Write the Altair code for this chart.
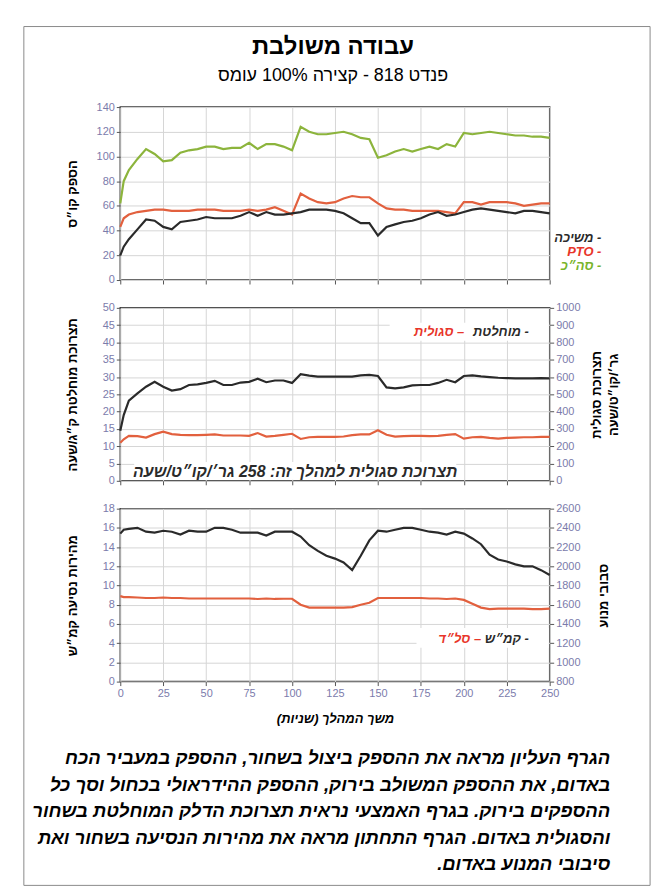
import altair as alt
import pandas as pd

FONT = "Liberation Sans"
BLACK = "#2a2a2a"
RED = "#e2603e"
GREEN = "#8cb43c"
LBL = "#7b7bab"

# ---------------- data ----------------
seconds = [0, 2, 5, 10, 15, 20, 25, 30, 35, 40, 45, 50, 55, 60, 65, 70, 75, 80, 85, 90,
           95, 100, 105, 110, 115, 120, 125, 130, 135, 140, 145, 150, 155, 160, 165, 170,
           175, 180, 185, 190, 195, 200, 205, 210, 215, 220, 225, 230, 235, 240, 245, 250]

draw_power = [20, 27, 33, 41, 49, 48, 43, 41, 47, 48, 49, 51, 50, 50, 50, 52, 55, 52, 55, 53,
              53, 54, 55, 57, 57, 57, 56, 54, 50, 46, 46, 36, 43, 45, 47, 48, 50, 53, 55, 52,
              53, 55, 57, 58, 57, 56, 55, 54, 56, 56, 55, 54]
pto_power = [43, 50, 53, 55, 56, 57, 57, 56, 56, 56, 57, 57, 57, 56, 56, 56, 57, 56, 57, 59,
             56, 53, 70, 66, 63, 62, 63, 66, 68, 67, 67, 62, 58, 57, 57, 56, 56, 56, 56, 55,
             54, 63, 63, 61, 63, 63, 63, 62, 60, 61, 62, 62]
total_power = [62, 80, 89, 98, 106, 102, 96, 97, 103, 105, 106, 108, 108, 106, 107, 107, 111, 106,
               110, 110, 108, 105, 124, 120, 118, 118, 119, 120, 118, 115, 114, 99, 101, 104,
               106, 104, 106, 108, 106, 110, 108, 119, 118, 119, 120, 119, 118, 117, 117, 116,
               116, 115]

fuel_abs = [14.5, 19, 23.2, 25.3, 27.2, 28.6, 27.2, 26.1, 26.5, 27.7, 27.9, 28.3, 28.9, 27.7,
            27.7, 28.4, 28.6, 29.5, 28.5, 29, 29, 28.3, 30.8, 30.4, 30.1, 30.1, 30.1, 30.1,
            30.1, 30.5, 30.6, 30.3, 27, 26.7, 27, 27.6, 27.7, 27.7, 28.3, 29.2, 28.5, 30.3,
            30.5, 30.2, 30, 29.8, 29.7, 29.6, 29.6, 29.6, 29.7, 29.6]
fuel_spec = [220, 240, 260, 258, 250, 270, 284, 270, 266, 264, 264, 266, 268, 262, 262, 262,
             260, 276, 256, 260, 266, 272, 242, 252, 254, 254, 254, 256, 264, 268, 268, 292,
             266, 256, 258, 260, 260, 258, 260, 266, 270, 244, 252, 254, 248, 244, 248, 250,
             252, 252, 254, 254]

speed_kmh = [15.4, 15.8, 15.9, 16.0, 15.6, 15.5, 15.7, 15.6, 15.3, 15.7, 15.6, 15.6, 16.0,
             16.0, 15.8, 15.5, 15.5, 15.5, 15.2, 15.6, 15.6, 15.6, 15.1, 14.2, 13.6, 13.1,
             12.8, 12.4, 11.6, 13.1, 14.7, 15.7, 15.6, 15.8, 16.0, 16.0, 15.8, 15.6, 15.5,
             15.3, 15.6, 15.4, 14.9, 14.3, 13.2, 12.7, 12.5, 12.2, 12.0, 12.0, 11.6, 11.1]
engine_rpm = [1690, 1680, 1680, 1675, 1670, 1670, 1675, 1670, 1670, 1665, 1665, 1665, 1665,
              1665, 1665, 1665, 1665, 1660, 1665, 1660, 1662, 1662, 1600, 1570, 1570, 1570,
              1570, 1570, 1575, 1600, 1620, 1670, 1670, 1670, 1670, 1670, 1670, 1665, 1665,
              1660, 1665, 1650, 1610, 1570, 1555, 1560, 1560, 1560, 1560, 1555, 1555, 1560]

x_ticks = [0, 25, 50, 75, 100, 125, 150, 175, 200, 225, 250]
top_ticks = [0, 20, 40, 60, 80, 100, 120, 140]
mid_ticks = [0, 5, 10, 15, 20, 25, 30, 35, 40, 45, 50]
mid_r_ticks = [0, 100, 200, 300, 400, 500, 600, 700, 800, 900, 1000]
bot_ticks = [0, 2, 4, 6, 8, 10, 12, 14, 16, 18]
bot_r_ticks = [800, 1000, 1200, 1400, 1600, 1800, 2000, 2200, 2400, 2600]

title_main = "עבודה משולבת"
title_sub = "פנדט 818 - קצירה 100% עומס"
top_legend = ["משיכה -", "PTO -", "סה״כ -"]
mid_legend = ["מוחלטת -", "סגולית –"]
bot_legend = ["קמ״ש -", "סל״ד –"]
mid_note = "תצרוכת סגולית למהלך זה: 258 גר׳/קו״ט/שעה"
x_title = "משך המהלך (שניות)\u200f"
caption_lines = [
    "הגרף העליון מראה את ההספק ביצול בשחור, ההספק במעביר הכח",
    "באדום, את ההספק המשולב בירוק, ההספק ההידראולי בכחול וסך כל",
    "ההספקים בירוק. בגרף האמצעי נראית תצרוכת הדלק המוחלטת בשחור",
    "והסגולית באדום. הגרף התחתון מראה את מהירות הנסיעה בשחור ואת",
    "סיבובי המנוע באדום.\u200f",
]

W, H = 432, 174
n = len(seconds)
one = pd.DataFrame({"k": [0]})

xscale = alt.Scale(domain=[0, 250], nice=False)


def x_enc(show_labels, title=None):
    if show_labels:
        ax = alt.Axis(values=x_ticks, labelFlush=False, title=title, titleFontStyle="italic",
                      titlePadding=14, titleFontSize=13)
    else:
        ax = alt.Axis(values=x_ticks, labels=False, title=None)
    return alt.X("t:Q", scale=xscale, axis=ax)


def txt(s, x, y, color="black", size=13, align="right", weight="bold", style="italic"):
    return alt.Chart(one).mark_text(
        text=s, font=FONT, fontSize=size, fontWeight=weight, fontStyle=style,
        align=align, baseline="middle", color=color,
    ).encode(x=alt.value(x), y=alt.value(y))


def box(x1, x2, y1, y2):
    return alt.Chart(one).mark_rect(fill="white").encode(
        x=alt.value(x1), x2=alt.value(x2), y=alt.value(y1), y2=alt.value(y2))


# ---------------- top panel ----------------
top_df = pd.DataFrame({
    "t": seconds * 3,
    "v": total_power + pto_power + draw_power,
    "s": ["total"] * n + ["pto"] * n + ["draw"] * n,
})

top_lines = alt.Chart(top_df).mark_line(strokeWidth=2.2).encode(
    x=x_enc(False),
    y=alt.Y("v:Q", scale=alt.Scale(domain=[0, 140], nice=False),
            axis=alt.Axis(values=top_ticks, title="הספק קו״ס", titleX=-48, titleY=H / 2,
                          titleAngle=270, titleBaseline="middle", titleAlign="center")),
    color=alt.Color("s:N", scale=alt.Scale(domain=["total", "pto", "draw"],
                                           range=[GREEN, RED, BLACK]), legend=None),
    detail="s:N",
)

frame = alt.Chart(one).mark_rect(fillOpacity=0, stroke="#8a8a8a", strokeWidth=1).encode(
    x=alt.value(-97), x2=alt.value(533), y=alt.value(-81), y2=alt.value(783))

top = alt.layer(
    frame,
    top_lines,
    txt(title_main, 214, -60, size=24, align="center", style="normal"),
    txt(title_sub, 214, -31, size=18, align="center", weight="normal", style="normal"),
    txt(top_legend[0], 484, 132, BLACK),
    txt(top_legend[1], 484, 146, "#e8352a"),
    txt(top_legend[2], 484, 160, "#78b42a"),
).properties(width=W, height=H)

# ---------------- middle panel ----------------
mid_df = pd.DataFrame({"t": seconds, "abs": fuel_abs, "spec": fuel_spec})

mid_abs = alt.Chart(mid_df).mark_line(color=BLACK, strokeWidth=2.2).encode(
    x=x_enc(False),
    y=alt.Y("abs:Q", scale=alt.Scale(domain=[0, 50], nice=False),
            axis=alt.Axis(values=mid_ticks, title="תצרוכת מוחלטת ק״ג/שעה", titleX=-48,
                          titleY=H / 2, titleAngle=270, titleBaseline="middle",
                          titleAlign="center")),
)
mid_spec = alt.Chart(mid_df).mark_line(color=RED, strokeWidth=2.2).encode(
    x=x_enc(False),
    y=alt.Y("spec:Q", scale=alt.Scale(domain=[0, 1000], nice=False),
            axis=alt.Axis(orient="right", values=mid_r_ticks, grid=False, format="d",
                          title=["תצרוכת סגולית", "גר׳/קו״ט/שעה"], titleX=41, titleY=H / 2,
                          titleAngle=270, titleBaseline="top", titleAlign="center",
                          titleLineHeight=17)),
)

mid = alt.layer(
    mid_abs,
    mid_spec,
    box(271, 431, 15, 33),
    box(14, 338, 155, 173),
    txt(mid_legend[0], 411, 24, BLACK),
    txt(mid_legend[1], 346, 24, "#e8352a"),
    txt(mid_note, 176, 165, BLACK, size=16, align="center"),
).resolve_scale(y="independent").properties(width=W, height=H)

# ---------------- bottom panel ----------------
bot_df = pd.DataFrame({"t": seconds, "speed": speed_kmh, "rpm": engine_rpm})

bot_speed = alt.Chart(bot_df).mark_line(color=BLACK, strokeWidth=2.2).encode(
    x=x_enc(True, x_title),
    y=alt.Y("speed:Q", scale=alt.Scale(domain=[0, 18], nice=False),
            axis=alt.Axis(values=bot_ticks, title="מהירות נסיעה קמ״ש", titleX=-48,
                          titleY=H / 2, titleAngle=270, titleBaseline="middle",
                          titleAlign="center")),
)
bot_rpm = alt.Chart(bot_df).mark_line(color=RED, strokeWidth=2.2).encode(
    x=x_enc(True, x_title),
    y=alt.Y("rpm:Q", scale=alt.Scale(domain=[800, 2600], nice=False),
            axis=alt.Axis(orient="right", values=bot_r_ticks, grid=False, format="d",
                          title="סבובי מנוע", titleX=54, titleY=H / 2, titleAngle=270,
                          titleBaseline="middle", titleAlign="center")),
)

caption = alt.Chart(one).mark_text(
    font=FONT, fontSize=18.6, fontWeight="bold", fontStyle="italic", align="right",
    baseline="top", lineHeight=26.7, color="black",
).encode(x=alt.value(493), y=alt.value(242), text=alt.value(caption_lines))

bot = alt.layer(
    bot_speed,
    bot_rpm,
    box(298, 431, 120, 140),
    txt(bot_legend[0], 411, 131, BLACK),
    txt(bot_legend[1], 363, 131, "#e8352a"),
    caption,
).resolve_scale(y="independent").properties(width=W, height=H)

chart = alt.vconcat(top, mid, bot, spacing=28, bounds="flush").properties(
    padding={"left": 22, "top": 22, "right": 13, "bottom": 9},
    background="white",
).configure_view(
    stroke="#3a3a3a", strokeWidth=1.5,
).configure_axis(
    domain=False, gridColor="#d6d6d6", gridWidth=1, tickColor="#555555", tickSize=4,
    labelColor=LBL, labelFont=FONT, labelFontSize=11, titleFont=FONT, titleFontSize=13,
    titleFontWeight="bold", titleColor="black",
)

chart.save("out.html", embed_options={"renderer": "svg", "actions": False})
